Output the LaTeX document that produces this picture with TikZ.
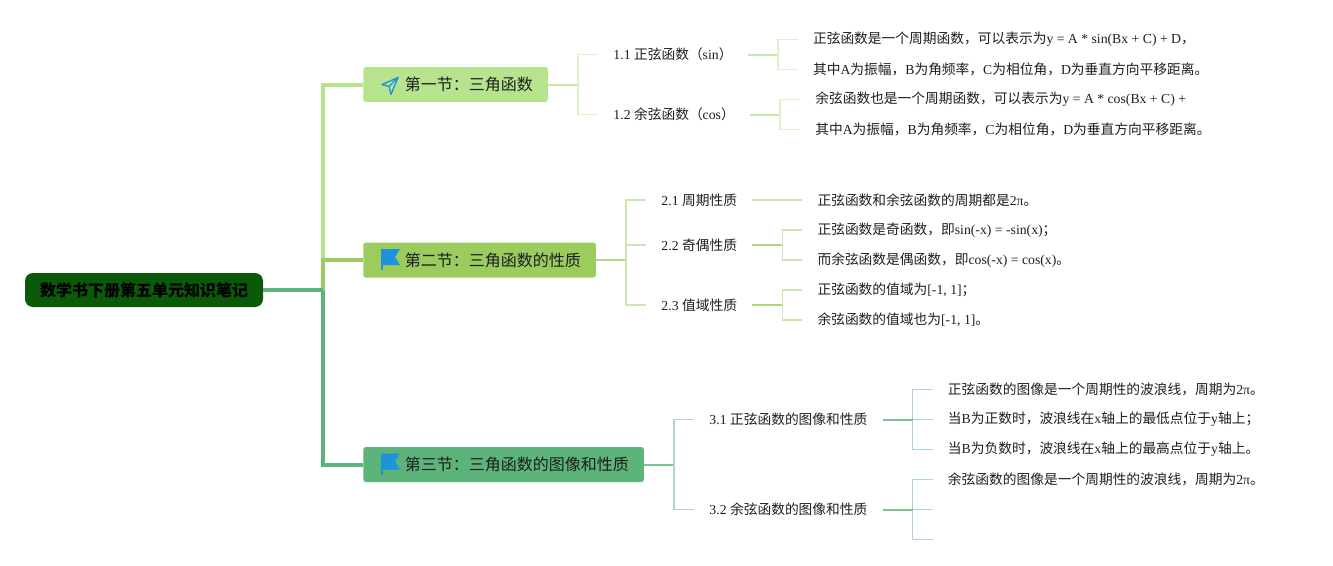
\documentclass[tikz,border=0pt]{standalone}
\usepackage{fontspec}
\setmainfont{Noto Sans CJK SC}
\newfontfamily\en{Liberation Serif}
\usetikzlibrary{positioning,calc}

\definecolor{rootgreen}{HTML}{0A5A0A}
\definecolor{secA}{HTML}{B8E38E}
\definecolor{secB}{HTML}{9CCB5E}
\definecolor{secC}{HTML}{5CB47B}
\definecolor{iconblue}{HTML}{1E93DC}
\definecolor{ink}{HTML}{1E1E1E}

\begin{document}
\begin{tikzpicture}[x=0.75pt,y=-0.75pt,node distance=37.5pt,
	rootbox/.style={fill=rootgreen,rounded corners=6pt,minimum width=178.5pt,minimum height=25.5pt,inner sep=0pt,font=\fontsize{12pt}{14pt}\selectfont\bfseries},
	secbox/.style={fill=#1,rounded corners=2pt,minimum height=26.25pt,inner xsep=11.25pt,text=ink,font=\fontsize{12pt}{14pt}\selectfont,execute at begin node=\hspace*{20pt}},
	sub/.style={inner xsep=11.25pt,inner ysep=2pt,text=ink,font=\fontsize{10.3pt}{12pt}\selectfont},
	leaf/.style={sub},
	trunk/.style={line width=3pt,draw=#1},
	stub/.style={line width=1.5pt,draw=#1!80},
	brk/.style={line width=1.1pt,draw=#1!50},
	plane/.pic={\draw[iconblue,line width=1pt,line join=round] (8,-8) -- (-8,-1) -- (-1,1) -- (1,9) -- cycle (-1,1) -- (8,-8);},
	flag/.pic={\fill[iconblue] (-8,-11) -- (10,-11) -- (5,-3) -- (10,5) -- (-8,5) -- cycle;
		\draw[iconblue,line width=1.3pt] (-8,-11) -- (-8,10);}]
	\useasboundingbox (0,0) rectangle (1333,565);

	% root and sections
	\node[rootbox] (root) at (144,290) {数学书下册第五单元知识笔记};
	\node[secbox=secA,anchor=west] (s1) at (363,84.5) {第一节：三角函数};
	\node[secbox=secB,anchor=west] (s2) at (363,260) {第二节：三角函数的性质};
	\node[secbox=secC,anchor=west] (s3) at (363,464.5) {第三节：三角函数的图像和性质};
	\pic at ($(s1.west)+(27,1)$) {plane};
	\pic at ($(s2.west)+(27,0)$) {flag};
	\pic at ($(s3.west)+(27,0)$) {flag};

	\coordinate (hub) at (322.5,290);
	\draw[trunk=secA] (hub) |- (s1.west);
	\draw[trunk=secB] (hub) |- (s2.west);
	\draw[trunk=secC] (hub) |- (s3.west);
	\draw[trunk=secC] (root.east) -- (hub);

	% first section
	\node[sub,right=of s1,yshift=22.5pt] (a11) {{\en 1.1 }正弦函数（{\en sin}）};
	\node[sub,right=of s1,yshift=-22.5pt] (a12) {{\en 1.2 }余弦函数（{\en cos}）};
	\node[leaf,right=of a11,yshift=11.25pt] (l111) {正弦函数是一个周期函数，可以表示为{\en y = A * sin(Bx + C) + D}，};
	\node[leaf,right=of a11,yshift=-11.25pt] (l112) {其中{\en A}为振幅，{\en B}为角频率，{\en C}为相位角，{\en D}为垂直方向平移距离。};
	\node[leaf,right=of a12,yshift=11.25pt] (l121) {余弦函数也是一个周期函数，可以表示为{\en y = A * cos(Bx + C) +}};
	\node[leaf,right=of a12,yshift=-11.25pt] (l122) {其中{\en A}为振幅，{\en B}为角频率，{\en C}为相位角，{\en D}为垂直方向平移距离。};
	\draw[stub=secA] (s1.east) -- ++(30,0) coordinate (s1b);
	\draw[brk=secA] (s1b) |- (a11.west) (s1b) |- (a12.west);
	\draw[stub=secA] (a11.east) -- ++(30,0) coordinate (a11b);
	\draw[brk=secA] (a11b) |- (l111.west) (a11b) |- (l112.west);
	\draw[stub=secA] (a12.east) -- ++(30,0) coordinate (a12b);
	\draw[brk=secA] (a12b) |- (l121.west) (a12b) |- (l122.west);

	% second section
	\node[sub,right=of s2,yshift=45pt] (a21) {{\en 2.1 }周期性质};
	\node[sub,right=of s2,yshift=11.25pt] (a22) {{\en 2.2 }奇偶性质};
	\node[sub,right=of s2,yshift=-33.75pt] (a23) {{\en 2.3 }值域性质};
	\node[leaf,right=of a21] (l211) {正弦函数和余弦函数的周期都是{\en 2π}。};
	\node[leaf,right=of a22,yshift=11.25pt] (l221) {正弦函数是奇函数，即{\en sin(-x) = -sin(x)}；};
	\node[leaf,right=of a22,yshift=-11.25pt] (l222) {而余弦函数是偶函数，即{\en cos(-x) = cos(x)}。};
	\node[leaf,right=of a23,yshift=11.25pt] (l231) {正弦函数的值域为{\en [-1, 1]}；};
	\node[leaf,right=of a23,yshift=-11.25pt] (l232) {余弦函数的值域也为{\en [-1, 1]}。};
	\draw[stub=secB] (s2.east) -- ++(30,0) coordinate (s2b);
	\draw[brk=secB] (s2b) |- (a21.west) (s2b) |- (a22.west) (s2b) |- (a23.west);
	\draw[brk=secB] (a21.east) -- (l211.west);
	\draw[stub=secB] (a22.east) -- ++(30,0) coordinate (a22b);
	\draw[brk=secB] (a22b) |- (l221.west) (a22b) |- (l222.west);
	\draw[stub=secB] (a23.east) -- ++(30,0) coordinate (a23b);
	\draw[brk=secB] (a23b) |- (l231.west) (a23b) |- (l232.west);

	% third section
	\node[sub,right=of s3,yshift=33.75pt] (a31) {{\en 3.1 }正弦函数的图像和性质};
	\node[sub,right=of s3,yshift=-33.75pt] (a32) {{\en 3.2 }余弦函数的图像和性质};
	\node[leaf,right=of a31,yshift=22.5pt] (l311) {正弦函数的图像是一个周期性的波浪线，周期为{\en 2π}。};
	\node[leaf,right=of a31] (l312) {当{\en B}为正数时，波浪线在{\en x}轴上的最低点位于{\en y}轴上；};
	\node[leaf,right=of a31,yshift=-22.5pt] (l313) {当{\en B}为负数时，波浪线在{\en x}轴上的最高点位于{\en y}轴上。};
	\node[leaf,right=of a32,yshift=22.5pt] (l321) {余弦函数的图像是一个周期性的波浪线，周期为{\en 2π}。};
	\coordinate[right=of a32] (l322);
	\coordinate[right=of a32,yshift=-22.5pt] (l323);
	\draw[stub=secC] (s3.east) -- ++(30,0) coordinate (s3b);
	\draw[brk=secC] (s3b) |- (a31.west) (s3b) |- (a32.west);
	\draw[brk=secC] (a31.east) -- ++(30,0) coordinate (a31b);
	\draw[brk=secC] (a31b) |- (l311.west) (a31b) -- (l312.west) (a31b) |- (l313.west);
	\draw[stub=secC] (a31.east) -- (a31b);
	\draw[brk=secC] (a32.east) -- ++(30,0) coordinate (a32b);
	\draw[brk=secC] (a32b) |- (l321.west) (a32b) -- (l322) (a32b) |- (l323);
	\draw[stub=secC] (a32.east) -- (a32b);
\end{tikzpicture}
\end{document}
